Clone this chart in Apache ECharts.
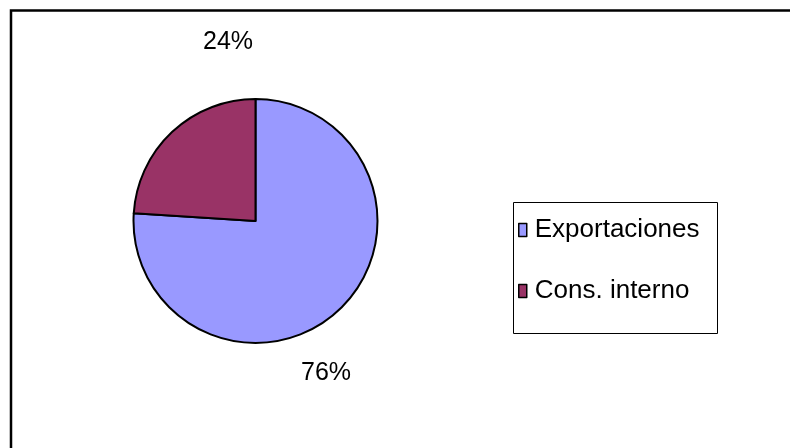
<!DOCTYPE html>
<html>
<head>
<meta charset="utf-8">
<script src="https://cdn.jsdelivr.net/npm/echarts@6/dist/echarts.min.js"></script>
<style>
  html, body { margin: 0; padding: 0; background: #fff; }
  #chart { width: 790px; height: 448px; }
</style>
</head>
<body>
<div id="chart"></div>
<script>
// Destino de la producción
const categories = ['Exportaciones', 'Cons. interno'];
const values = [76, 24];
const colors = ['#9999FF', '#993366'];

// Fixed spots for the percentage labels, keyed by slice
const labelSpots = [
  { x: 326, y: 373 },
  { x: 228, y: 42 }
];

const font = '"Liberation Sans", Arial, sans-serif';
const chart = echarts.init(document.getElementById('chart'), null, { renderer: 'canvas' });

chart.setOption({
  backgroundColor: '#ffffff',
  animation: false,
  graphic: [
    // chart frame (top and left edges visible)
    {
      type: 'rect',
      shape: { x: 11, y: 10.5, width: 1200, height: 1200 },
      style: { fill: 'none', stroke: '#000', lineWidth: 2.5 },
      silent: true
    },
    // legend box
    {
      type: 'rect',
      shape: { x: 513.5, y: 202.5, width: 204, height: 131 },
      style: { fill: '#fff', stroke: '#000', lineWidth: 1 },
      silent: true,
      z: 0
    }
  ],
  legend: {
    orient: 'vertical',
    left: 513,
    top: 202,
    padding: [15, 10, 10, 5],
    itemWidth: 8,
    itemHeight: 13,
    itemGap: 35,
    icon: 'rect',
    z: 5,
    itemStyle: { borderColor: '#000', borderWidth: 1.5 },
    textStyle: { fontFamily: font, fontSize: 26, color: '#000', padding: [0, 0, 0, 3] },
    data: categories
  },
  series: [{
    type: 'pie',
    center: [255.5, 221],
    radius: 122,
    startAngle: 90,
    clockwise: true,
    avoidLabelOverlap: false,
    data: categories.map((name, i) => ({
      name,
      value: values[i],
      itemStyle: { color: colors[i] }
    })),
    itemStyle: { borderColor: '#000', borderWidth: 2 },
    label: {
      show: true,
      position: 'outside',
      formatter: '{d}%',
      fontFamily: font,
      fontSize: 25,
      color: '#000'
    },
    labelLine: { show: false },
    labelLayout: (params) => ({
      x: labelSpots[params.dataIndex].x,
      y: labelSpots[params.dataIndex].y,
      align: 'center',
      verticalAlign: 'middle'
    }),
    emphasis: { disabled: true }
  }]
});
</script>
</body>
</html>
